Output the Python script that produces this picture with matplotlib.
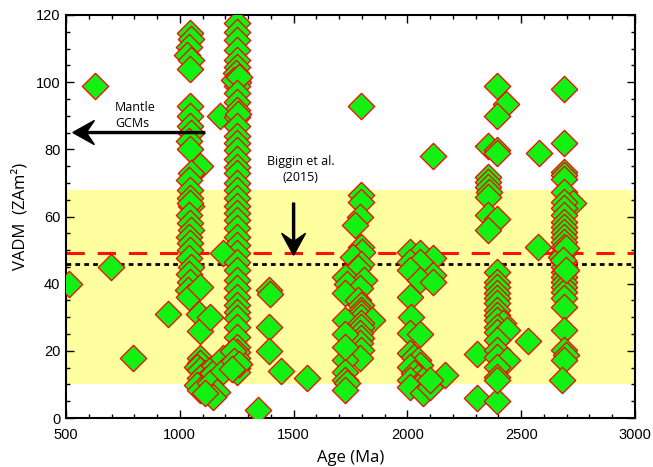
import matplotlib
matplotlib.use("Agg")
import matplotlib.pyplot as plt
from matplotlib.ticker import MultipleLocator

# ---------------- data (Age in Ma, VADM in ZAm^2) ----------------
iso_age = [515, 627, 696, 795, 947, 1345, 1393, 1398, 1393, 1393, 1445, 1560,
           1795, 2114, 2531, 2575, 2578, 2304, 2304, 2392]
iso_vadm = [40, 99, 45, 18, 31, 2.4, 38, 37, 27, 20, 14, 12,
            93, 78, 23, 51, 79, 19, 6, 5]

g1045_age = [1045, 1048, 1040, 1030, 1050, 1045,
             1045, 1045, 1045, 1048, 1040, 1045, 1090, 1050, 1040, 1045, 1045, 1048,
             1045, 1040, 1045, 1050, 1040, 1045, 1045, 1040, 1050, 1040, 1045, 1036, 1040,
             1089, 1085, 1089, 1133,
             1089, 1089, 1074, 1089, 1111, 1133, 1089, 1111, 1074, 1089, 1146, 1133,
             1162, 1146, 1111]
g1045_vadm = [114.5, 113, 110.5, 108, 106.5, 104,
              93, 90, 87, 85, 82.5, 80, 75, 73, 71, 68, 65.5, 63,
              64, 60.5, 58, 56, 54, 52, 50, 47.6, 45, 43, 40.5, 38, 36,
              39, 31, 26, 30,
              18, 16.3, 15.3, 14.3, 13.3, 14.3, 11.8, 11.3, 9.8, 8.3, 13.3, 10.3,
              7.8, 6.3, 7.4]

g1250_age = [1250, 1250, 1250, 1250, 1250, 1250, 1245, 1250, 1255, 1250, 1240, 1258,
             1250, 1250, 1250, 1177, 1250, 1256, 1250, 1250, 1250, 1250, 1250, 1250,
             1250, 1250, 1250, 1250, 1250, 1250, 1250, 1250, 1250, 1250, 1250, 1190,
             1250, 1250, 1250, 1250, 1250, 1250, 1250, 1250, 1250, 1250, 1250, 1250,
             1250, 1250, 1250, 1250, 1190, 1190, 1235, 1240, 1260, 1230]
g1250_vadm = [117.5, 115, 112.5, 109.5, 106.5, 104.5, 102.6, 101, 100, 99, 100.5, 101.5,
              96.7, 94, 91.7, 90, 89.6, 90.5, 87, 84, 81.8, 79.8, 77, 74.7,
              72.9, 70, 67.9, 65.5, 63, 61, 59, 56.5, 54, 51.5, 49, 49,
              46.6, 44, 41, 38.7, 36, 33.6, 31.5, 29.8, 27, 24, 21, 19.6,
              18, 16.7, 15, 13.7, 18, 14, 20, 17, 16, 14.5]

g1800_age = [1795, 1795, 1790, 1770, 1795, 1800, 1761, 1795, 1785, 1726, 1808, 1735,
             1790, 1726, 1785, 1795, 1795, 1795, 1795, 1726, 1843, 1795, 1795, 1790,
             1795, 1790, 1795, 1790, 1726, 1726, 1726, 1735, 1726, 1726, 1726]
g1800_vadm = [66.4, 64.4, 59.9, 57.4, 51, 49.5, 48, 46, 44.6, 42, 41, 40,
              38.7, 37.2, 35, 33.6, 32.1, 31.2, 30.2, 29.2, 29.2, 28.2, 27.2, 25.3,
              23.8, 22.3, 20.2, 17.9, 17.3, 13.8, 11.3, 10.4, 8.3, 25, 21]

g2050_age = [2011, 2055, 2113, 2011, 2055, 2011, 2113, 2055, 2113, 2011, 2015, 2011,
             2055, 2011, 2030, 2045, 2055, 2011, 2030, 2045, 2011, 2070, 2045, 2011,
             2070, 2100, 2165, 2100]
g2050_vadm = [49.5, 49, 47.6, 46.5, 46.5, 44, 42.6, 41, 40.6, 36, 30.2, 25.2,
              25, 19.3, 18.2, 17.3, 15.8, 15.3, 13.3, 12.3, 11.3, 11.3, 9.3, 9.3,
              7.3, 9.3, 12.8, 11.3]

g2400_age = [2395, 2432, 2392, 2355, 2392, 2392, 2355, 2355, 2355, 2360, 2355, 2355,
             2392, 2355,
             2392, 2392, 2392, 2392, 2392, 2392, 2392, 2392, 2392, 2420, 2392, 2392,
             2436, 2392, 2392, 2392, 2436, 2392, 2392, 2392]
g2400_vadm = [99, 93.5, 90, 81, 79.8, 79, 71.8, 70.3, 68.8, 67.4, 65.9, 60.4,
              59.4, 56,
              43.5, 40.6, 39.1, 37.1, 35.6, 34.1, 32.1, 30.7, 29.2, 28.2, 27.2, 25.7,
              26.2, 23.2, 20.2, 18.2, 17.3, 15.3, 12.3, 11.3]

g2700_age = [2689, 2689, 2689, 2689, 2689, 2689, 2728, 2689, 2689, 2689, 2689, 2689,
             2689, 2689, 2689, 2689, 2689, 2675, 2689, 2689, 2689, 2689, 2689, 2689,
             2689, 2689, 2689, 2689, 2689, 2695, 2689, 2680, 2695, 2683, 2695]
g2700_vadm = [98, 82, 73.3, 72.3, 71.3, 67.4, 63.9, 64.4, 62.4, 60.4, 58.4, 56.9,
              55.4, 54, 52.5, 51, 49.5, 48, 46.5, 45, 43.5, 42, 40.6, 39.1,
              37.6, 35.6, 33.1, 26.2, 20.2, 18.8, 17.3, 11.3, 50.5, 47, 44]

band_low, band_high = 10, 68
biggin_mean = 49
other_mean = 46

# ---------------- figure ----------------
fig = plt.figure(figsize=(6.53, 4.67), dpi=100)
ax = fig.add_axes([66/653, 1-418/467, (635-66)/653, (418-15)/467])

ax.axhspan(band_low, band_high, color='#ffff9f', lw=0, zorder=0)
ax.axhline(biggin_mean, color='#ff1010', lw=2.2, dashes=(6, 4.2), zorder=1)
ax.axhline(other_mean, color='black', lw=2.0, dashes=(1.7, 1.5), zorder=1)

groups = [(iso_age, iso_vadm), (g1045_age, g1045_vadm), (g1250_age, g1250_vadm),
          (g1800_age, g1800_vadm), (g2050_age, g2050_vadm), (g2400_age, g2400_vadm),
          (g2700_age, g2700_vadm)]
for a, v in groups:
    ax.scatter(a, v, marker='D', s=180, facecolor='#12f014', edgecolor='#ff0000',
               linewidth=0.9, zorder=3)

# arrows
ax.arrow(1110, 85, -580, 0, width=0.6, head_width=7.2, head_length=95,
         overhang=0.35, length_includes_head=True, color='black', zorder=4)
ax.arrow(1500, 64, 0, -15.5, width=9, head_width=105, head_length=6.5,
         overhang=0.35, length_includes_head=True, color='black', zorder=4)

ax.text(715, 90.2, "Mantle\nGCMs", fontsize=9, family='Open Sans', ha='left',
        va='center', linespacing=1.3, zorder=5)
ax.text(1530, 74.1, "Biggin et al.\n(2015)", fontsize=9, family='Open Sans',
        ha='center', va='center', multialignment='center', linespacing=1.3, zorder=5)

ax.set_xlim(500, 3000)
ax.set_ylim(0, 120)
ax.xaxis.set_major_locator(MultipleLocator(500))
ax.xaxis.set_minor_locator(MultipleLocator(100))
ax.yaxis.set_major_locator(MultipleLocator(20))
ax.yaxis.set_minor_locator(MultipleLocator(5))
ax.tick_params(which='both', direction='in', top=True, right=True, width=1.0)
ax.tick_params(which='major', length=5.5)
ax.tick_params(which='minor', length=3)
ax.tick_params(axis='x', pad=7)
ax.tick_params(axis='y', pad=4)
for lab in ax.get_xticklabels() + ax.get_yticklabels():
    lab.set_family('Liberation Sans')
    lab.set_fontsize(10.5)
for sp in ax.spines.values():
    sp.set_linewidth(1.5)

ax.set_xlabel("Age (Ma)", family='Open Sans', fontsize=12, labelpad=6)
ax.set_ylabel("VADM  (ZAm²)", family='Open Sans', fontsize=12, labelpad=5)

fig.savefig("out.png", dpi=100)
